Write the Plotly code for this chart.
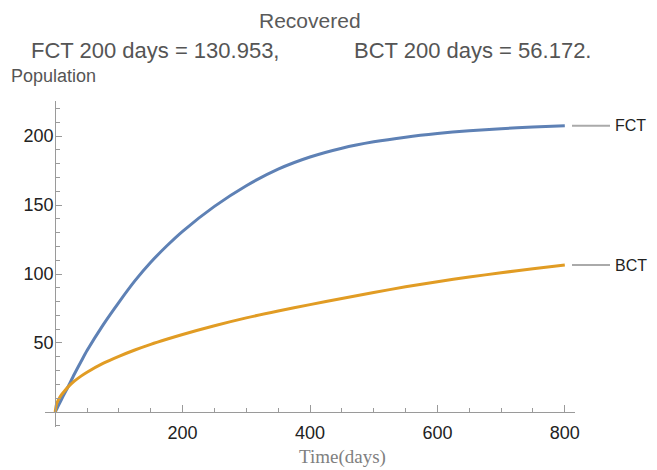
import plotly.graph_objects as go

# ---- data ----
days = [0, 2, 5, 10, 15, 20, 30, 40, 50, 75, 100, 125, 150, 175, 200,
        250, 300, 350, 400, 450, 500, 550, 600, 650, 700, 750, 800]
fct = [0, 1.8, 4.6, 9.2, 13.7, 18.1, 27.3, 36.0, 44.5, 63.0, 79.5, 95.0,
       108.5, 120.3, 130.953, 149.0, 164.0, 176.0, 184.8, 191.2, 195.8,
       199.2, 201.8, 203.8, 205.3, 206.5, 207.5]
bct = [0, 5.5, 8.8, 12.5, 15.4, 18.0, 22.3, 25.8, 28.8, 35.2, 40.3, 44.9,
       49.0, 52.7, 56.172, 62.5, 68.2, 73.2, 77.8, 82.3, 86.6, 90.7, 94.4,
       97.8, 100.9, 103.8, 106.5]
series_names = ["FCT", "BCT"]
x_major = [200, 400, 600, 800]
x_minor = [50, 100, 150, 250, 300, 350, 450, 500, 550, 650, 700, 750]
y_major = [50, 100, 150, 200]
y_minor = [-10, 10, 20, 30, 40, 60, 70, 80, 90, 110, 120, 130, 140,
           160, 170, 180, 190, 210, 220]
title_text = "Recovered"
sub_left = "FCT 200 days = 130.953,"
sub_right = "BCT 200 days = 56.172."
y_label = "Population"
x_label = "Time(days)"

colors = ["#5E81B5", "#E19C24"]

# ---- layout geometry (reference pixels; page body adds an 8px offset) ----
OFF = 8
W, H = 657 - OFF, 470 - OFF
plot_l, plot_r, plot_t, plot_b = 45, 575, 101, 427   # in reference pixels
ml, mt = plot_l - OFF, plot_t - OFF
mr, mb = W - (plot_r - OFF), H - (plot_b - OFF)
pw, ph = W - ml - mr, H - mt - mb
xr = [-16, 816]
yr = [-10.9, 225.4]


def px(x):
    return (x - plot_l) / pw


def py(y):
    return (plot_b - y) / ph


fig = go.Figure()
for name, vals, c in zip(series_names, [fct, bct], colors):
    fig.add_trace(go.Scatter(x=days, y=vals, mode="lines", name=name,
                             line=dict(color=c, width=3, shape="spline",
                                       smoothing=0.8),
                             showlegend=False, hoverinfo="skip"))

axis_gray = "#9a9a9a"
tick_font = dict(family="Liberation Sans, Arial, sans-serif", size=18,
                 color="#222222")

fig.update_layout(
    width=W, height=H, autosize=False,
    margin=dict(l=ml, r=mr, t=mt, b=mb, pad=0),
    paper_bgcolor="white", plot_bgcolor="white",
    xaxis=dict(range=xr, anchor="free",
               position=(0 - yr[0]) / (yr[1] - yr[0]),
               showline=True, linecolor=axis_gray, linewidth=1,
               showgrid=False, zeroline=False, automargin=False,
               tickmode="array", tickvals=x_major,
               ticktext=[str(v) for v in x_major],
               ticks="inside", ticklen=7, tickcolor=axis_gray, tickwidth=1,
               tickfont=tick_font, ticklabelstandoff=4,
               minor=dict(tickmode="array", tickvals=x_minor, ticks="inside",
                          ticklen=4, tickcolor=axis_gray, tickwidth=1,
                          showgrid=False)),
    yaxis=dict(range=yr, anchor="free",
               position=(0 - xr[0]) / (xr[1] - xr[0]),
               showline=True, linecolor=axis_gray, linewidth=1,
               showgrid=False, zeroline=False, automargin=False,
               tickmode="array", tickvals=y_major,
               ticktext=[str(v) for v in y_major],
               ticks="inside", ticklen=6, tickcolor=axis_gray, tickwidth=1,
               tickfont=tick_font, ticklabelstandoff=-2,
               minor=dict(tickmode="array", tickvals=y_minor, ticks="inside",
                          ticklen=4, tickcolor=axis_gray, tickwidth=1,
                          showgrid=False)),
)

sans = "Liberation Sans, Arial, sans-serif"
anns = [
    dict(text=title_text, x=px(310), y=py(20), xanchor="center",
         font=dict(family=sans, size=21, color="#5a5a5a")),
    dict(text=sub_left, x=px(29), y=py(50), xanchor="left",
         font=dict(family=sans, size=22, color="#555555")),
    dict(text=sub_right, x=px(352), y=py(50), xanchor="left",
         font=dict(family=sans, size=22, color="#555555")),
    dict(text=y_label, x=px(9), y=py(76), xanchor="left",
         font=dict(family=sans, size=18, color="#555555")),
    dict(text=x_label, x=px(342), y=py(457), xanchor="center",
         font=dict(family="Liberation Serif, Times New Roman, serif",
                   size=19, color="#808080")),
]
for a in anns:
    a.update(xref="paper", yref="paper", yanchor="middle", showarrow=False)
    fig.add_annotation(**a)

# end labels with short gray leader lines
for name, vals in zip(series_names, [fct, bct]):
    fig.add_shape(type="line", xref="paper", yref="y",
                  x0=px(572), x1=px(610), y0=vals[-1], y1=vals[-1],
                  line=dict(color="#aaaaaa", width=2))
    fig.add_annotation(text=name, xref="paper", yref="y", x=px(614),
                       y=vals[-1], xanchor="left", yanchor="middle",
                       showarrow=False, borderpad=0,
                       font=dict(family=sans, size=16, color="#222222"))

fig.write_html("out.html")
